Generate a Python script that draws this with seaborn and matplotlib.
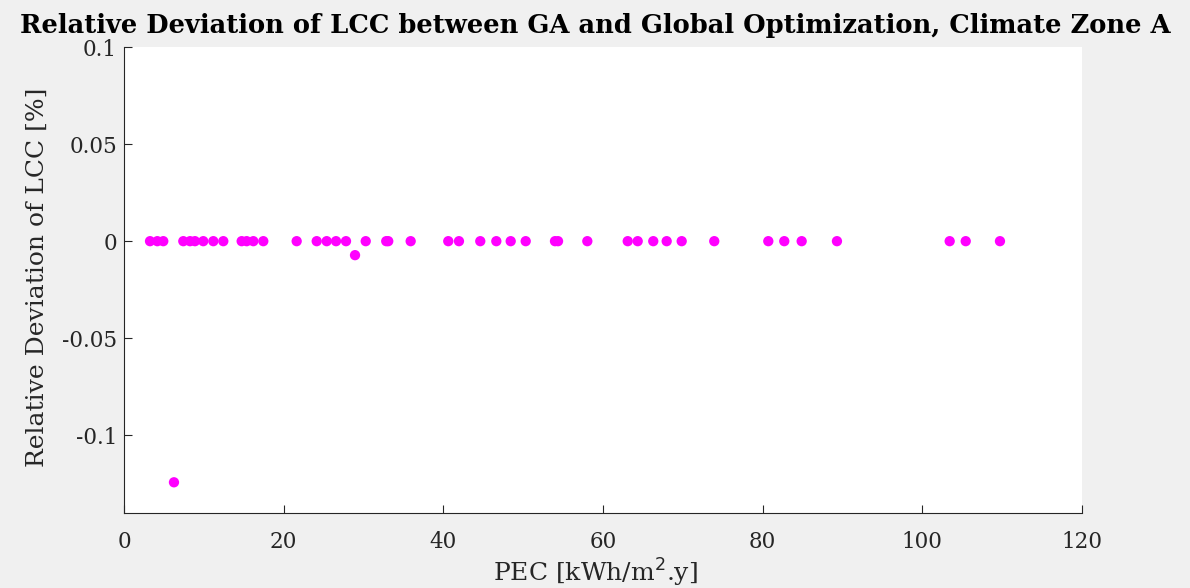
import numpy as np
import pandas as pd
import matplotlib
matplotlib.use("Agg")
import matplotlib.pyplot as plt
import seaborn as sns

pec = [3.26, 4.17, 4.92, 6.26, 7.43, 8.27, 8.89, 9.93, 11.19, 12.44, 14.74, 15.37,
       16.20, 17.45, 21.63, 24.14, 25.39, 26.56, 27.81, 28.94, 30.28, 32.85, 33.10,
       35.91, 40.62, 41.96, 44.63, 46.64, 48.44, 50.32, 53.99, 54.37, 58.04, 63.10,
       64.35, 66.30, 67.98, 69.86, 73.94, 80.71, 82.71, 84.89, 89.31, 103.43,
       105.44, 109.73]
deviation = [0, 0, 0, -0.1242, 0, 0, 0, 0, 0, 0, 0, 0,
             0, 0, 0, 0, 0, 0, 0, -0.0072, 0, 0, 0,
             0, 0, 0, 0, 0, 0, 0, 0, 0, 0, 0,
             0, 0, 0, 0, 0, 0, 0, 0, 0, 0,
             0, 0]
xticks = [0, 20, 40, 60, 80, 100, 120]
yticks = [-0.1, -0.05, 0, 0.05, 0.1]
ytick_labels = ["-0.1", "-0.05", "0", "0.05", "0.1"]

df = pd.DataFrame({"PEC": pec, "dev": deviation})

sns.set_style("white")
plt.rcParams["font.family"] = ["DejaVu Serif"]

fig = plt.figure(figsize=(11.9, 5.88), dpi=100, facecolor="#f0f0f0")
ax = fig.add_axes([0.1042, 0.1276, 0.805, 0.7924])
ax.set_facecolor("white")

sns.scatterplot(data=df, x="PEC", y="dev", ax=ax, color="#ff00ff", s=55,
                edgecolor="none", linewidth=0)

ax.set_xlim(0, 120)
ax.set_ylim(-0.14, 0.1)
ax.set_xticks(xticks)
ax.set_xticklabels([str(t) for t in xticks])
ax.set_yticks(yticks)
ax.set_yticklabels(ytick_labels)
ax.tick_params(direction="in", length=6, width=0.8, colors="#262626",
               labelsize=15.5, left=True, bottom=True)
ax.tick_params(axis="y", pad=5)
ax.tick_params(axis="x", pad=13)
for side in ["top", "right"]:
    ax.spines[side].set_visible(False)
for side in ["left", "bottom"]:
    ax.spines[side].set_color("#262626")
    ax.spines[side].set_linewidth(0.8)

ax.set_ylabel("")
ax.set_xlabel("")
fig.text(37 / 1190, 1 - 277 / 588, "Relative Deviation of LCC [%]", rotation=90,
         ha="center", va="center", fontsize=18, color="#262626")
fig.text(0.5, 1 - 573 / 588, "PEC [kWh/m$^2$.y]", ha="center", va="center",
         fontsize=18, color="#262626")
fig.text(0.5, 1 - 26 / 588,
         "Relative Deviation of LCC between GA and Global Optimization, Climate Zone A",
         ha="center", va="center", fontsize=18.5, fontweight="bold", color="black")

fig.savefig("out.png", dpi=100, facecolor=fig.get_facecolor())
